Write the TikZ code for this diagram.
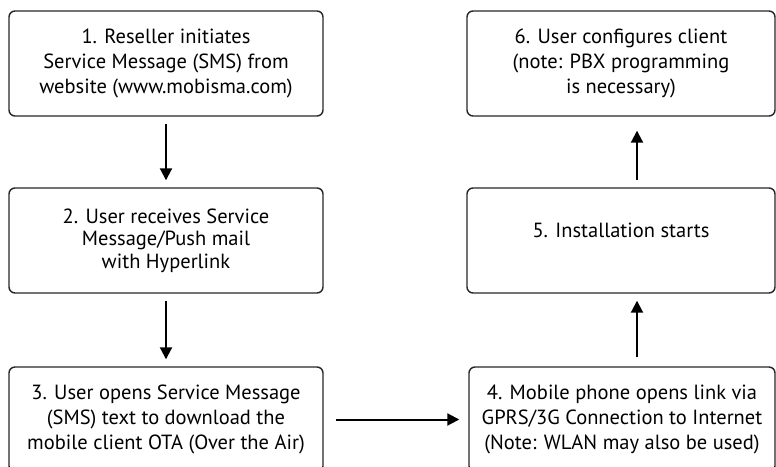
\documentclass[tikz,border=0pt]{standalone}
\usepackage{fontspec}
\setmainfont{PT Sans}
\usetikzlibrary{arrows.meta}

\begin{document}
\begin{tikzpicture}[x=1pt, y=1pt, >={Triangle[length=12pt, width=12pt]},
    box/.style={rectangle, rounded corners=6pt, draw=black!85, line width=1.4pt,
      align=center, minimum width=314pt, minimum height=105pt, inner sep=0,
      font=\fontsize{20.5}{25}\selectfont},
    flow/.style={->, line width=2pt, shorten <=7pt, shorten >=7pt}]
  \useasboundingbox (0,0) rectangle (776,466);
  \clip (0,0) rectangle (776,466);

  % left column
  \node[box] (step1) at (166, 402.5) {1. Reseller initiates\\Service Message (SMS) from\\website (www.mobisma.com)};
  \node[box, font=\fontsize{20.5}{22.5}\selectfont] (step2) at (166, 225.5) {2. User receives Service\\Message/Push mail\\with Hyperlink};
  \node[box] (step3) at (166, 46.5) {3. User opens Service Message\\(SMS) text to download the\\mobile client OTA (Over the Air)};

  % right column
  \node[box, minimum width=306pt] (step4) at (622, 46.5) {4. Mobile phone opens link via\\GPRS/3G Connection to Internet\\(Note: WLAN may also be used)};
  \node[box, minimum width=308pt, text depth=20pt] (step5) at (621, 225.5) {5. Installation starts};
  \node[box, minimum width=308pt] (step6) at (621, 402.5) {6. User configures client\\(note: PBX programming\\is necessary)};

  \draw[flow] (step1.south) -- (step2.north);
  \draw[flow] (step2.south) -- (step3.north);
  \draw[flow, shorten <=12pt, shorten >=9pt] (step3.east) -- (step4.west);
  \draw[flow, shorten <=9pt] ([xshift=15pt]step4.north) -- ([xshift=16pt]step5.south);
  \draw[flow, shorten >=14pt] ([xshift=16pt]step5.north) -- ([xshift=16pt]step6.south);
\end{tikzpicture}
\end{document}
